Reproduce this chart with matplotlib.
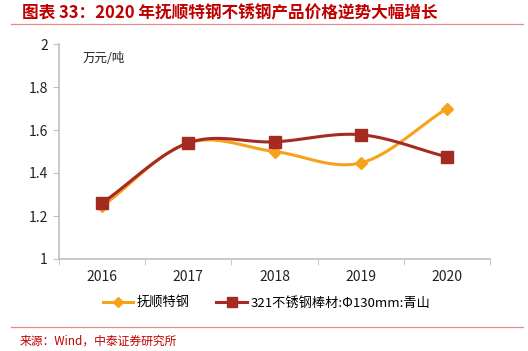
import numpy as np
import matplotlib.pyplot as plt
from matplotlib.lines import Line2D

plt.rcParams['font.family'] = ['Noto Sans CJK SC', 'DejaVu Sans']

years = ['2016', '2017', '2018', '2019', '2020']
fushun = [1.245, 1.54, 1.50, 1.447, 1.70]
bar321 = [1.26, 1.54, 1.545, 1.578, 1.475]
label1 = '抚顺特钢'
label2 = '321不锈钢棒材:Φ130mm:青山'


def smooth(y, n=30):
    # Catmull-Rom curve through the points, like Excel's smoothed line
    y = np.asarray(y, float)
    x = np.arange(len(y), dtype=float)
    px = np.concatenate([[2 * x[0] - x[1]], x, [2 * x[-1] - x[-2]]])
    py = np.concatenate([[2 * y[0] - y[1]], y, [2 * y[-1] - y[-2]]])
    xs, ys = [], []
    t = np.linspace(0, 1, n)
    for i in range(1, len(px) - 2):
        for p, out in ((px, xs), (py, ys)):
            p0, p1, p2, p3 = p[i - 1], p[i], p[i + 1], p[i + 2]
            out.extend(0.5 * (2 * p1 + (-p0 + p2) * t
                              + (2 * p0 - 5 * p1 + 4 * p2 - p3) * t ** 2
                              + (-p0 + 3 * p1 - 3 * p2 + p3) * t ** 3))
    return np.array(xs), np.array(ys)


c1 = '#F7A21B'
c2 = '#A52A22'

fig = plt.figure(figsize=(5.28, 3.51), dpi=100)
ax = fig.add_axes([59 / 528, 1 - 259 / 351, 431 / 528, 215 / 351])

x = np.arange(len(years))
sx, sy = smooth(fushun)
ax.plot(sx, sy, color=c1, lw=2.2, zorder=2)
ax.plot(x, fushun, ls='none', marker='D', ms=6, color=c1, zorder=3)
sx, sy = smooth(bar321)
ax.plot(sx, sy, color=c2, lw=2.2, zorder=4)
ax.plot(x, bar321, ls='none', marker='s', ms=8, color=c2, zorder=5)

ax.set_xlim(-0.5, 4.5)
ax.set_ylim(1, 2)
ax.set_yticks(np.arange(1, 2.01, 0.2))
ax.set_yticklabels(['1', '1.2', '1.4', '1.6', '1.8', '2'])
ax.set_xticks(x)
ax.set_xticklabels(years)
ax.set_xticks(np.arange(-0.5, 4.6, 1), minor=True)
ax.tick_params(axis='x', which='major', length=0, pad=8)
ax.tick_params(axis='x', which='minor', length=4, color='#BFBFBF')
ax.tick_params(axis='y', length=4, color='#BFBFBF', pad=4)
ax.tick_params(labelsize=10, labelcolor='#222222')
for s in ['top', 'right']:
    ax.spines[s].set_visible(False)
for s in ['left', 'bottom']:
    ax.spines[s].set_color('#BFBFBF')
    ax.spines[s].set_linewidth(1.2)

fig.text(83 / 528, 1 - 58 / 351, '万元/吨', fontsize=9, va='center', color='#222222')

handles = [Line2D([], [], color=c1, lw=2.2, marker='D', ms=5),
           Line2D([], [], color=c2, lw=2.2, marker='s', ms=7)]
fig.legend(handles, [label1, label2], loc='center', bbox_to_anchor=(0.505, 1 - 303 / 351),
           ncol=2, frameon=False, fontsize=9.5, handlelength=2.3, columnspacing=2.0,
           handletextpad=0.3)

red = '#C00000'
fig.text(22 / 528, 1 - 13 / 351, '图表 33：2020 年抚顺特钢不锈钢产品价格逆势大幅增长',
         fontsize=12, fontweight='bold', style='italic', color=red, va='center')
fig.add_artist(Line2D([11 / 528, 523 / 528], [1 - 24 / 351] * 2, color='#E58C8C', lw=0.9))
fig.add_artist(Line2D([11 / 528, 523 / 528], [1 - 327 / 351] * 2, color='#E58C8C', lw=0.9))
fig.text(20 / 528, 1 - 341 / 351, '来源：Wind，中泰证券研究所', fontsize=8.5, color=red, va='center')

fig.savefig('out.png', dpi=100)
